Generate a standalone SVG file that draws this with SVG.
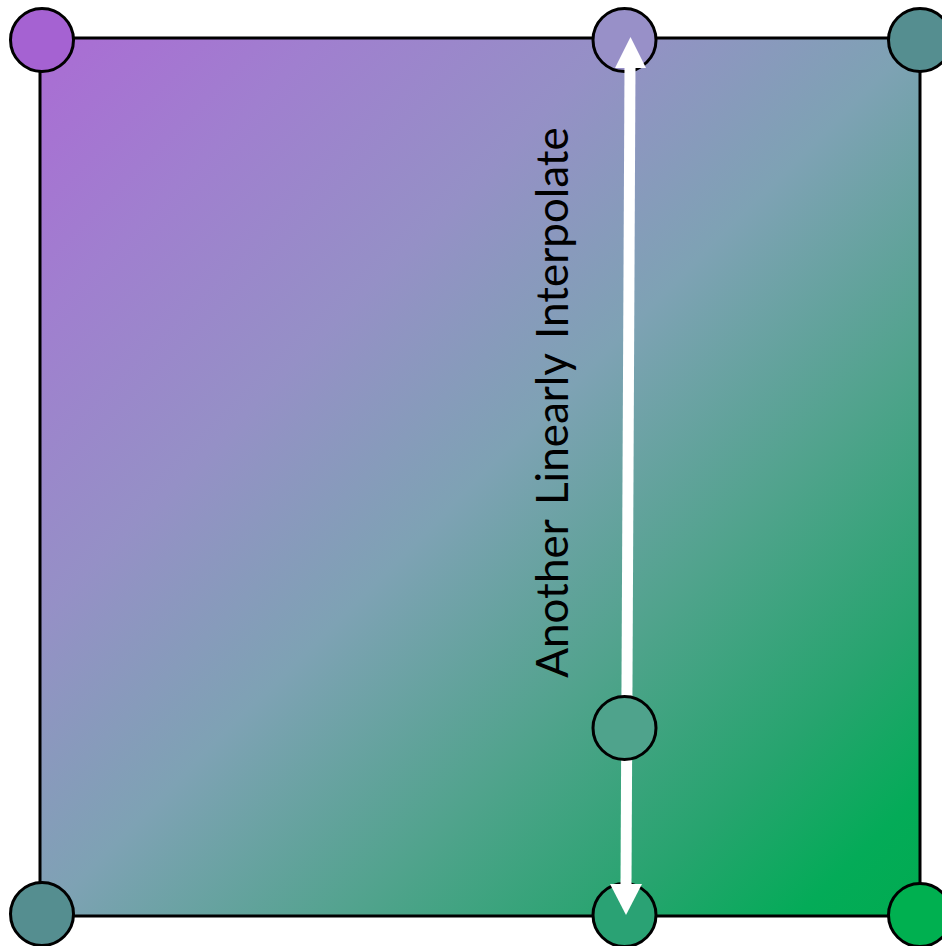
<svg xmlns="http://www.w3.org/2000/svg" width="942" height="946" viewBox="0 0 942 946">
  <defs>
    <linearGradient id="fieldGrad" gradientUnits="userSpaceOnUse" x1="40" y1="38" x2="920" y2="916">
      <stop offset="0" stop-color="#aa6cd4"/>
      <stop offset="0.16" stop-color="#a07fcf"/>
      <stop offset="0.33" stop-color="#9590c6"/>
      <stop offset="0.5" stop-color="#7ea2b4"/>
      <stop offset="0.68" stop-color="#50a38c"/>
      <stop offset="0.83" stop-color="#26a46e"/>
      <stop offset="0.93" stop-color="#04ab58"/>
      <stop offset="1" stop-color="#00ac50"/>
    </linearGradient>
    <style>
      .pt { stroke: #000; stroke-width: 3; }
      .label { font-family: "Lato", "Open Sans", sans-serif; font-size: 44px; fill: #000; word-spacing: 4px; }
      .shaft { stroke: #fff; stroke-width: 11; fill: none; }
      .head { fill: #fff; }
    </style>
  </defs>

  <!-- interpolated field -->
  <rect id="field" x="40" y="38" width="880" height="878" fill="url(#fieldGrad)" stroke="#000" stroke-width="3"/>

  <!-- corner samples -->
  <g id="corner-tl"><circle class="pt" cx="42" cy="40" r="31.5" fill="#a562d2"/></g>
  <g id="corner-tr"><circle class="pt" cx="920" cy="40" r="31.5" fill="#558e90"/></g>
  <g id="corner-bl"><circle class="pt" cx="42" cy="914" r="31.5" fill="#558e90"/></g>
  <g id="corner-br"><circle class="pt" cx="920" cy="915" r="31.5" fill="#00b050"/></g>

  <!-- edge samples -->
  <g id="edge-top"><circle class="pt" cx="624.5" cy="40" r="31.5" fill="#9890c8"/></g>
  <g id="edge-bottom"><circle class="pt" cx="624.5" cy="915" r="31.5" fill="#2aa274"/></g>

  <!-- double-headed interpolation arrow -->
  <g id="connectors">
    <line class="shaft" x1="630" y1="66" x2="626" y2="886"/>
    <polygon class="head" points="630.5,37 646,68 615,68"/>
    <polygon class="head" points="626,915 610,884 642,884"/>
  </g>

  <!-- interpolated sample -->
  <g id="interp"><circle class="pt" cx="624.5" cy="728" r="31.5" fill="#4fa38c"/></g>

  <g id="caption">
    <text class="label" transform="translate(568,402.5) rotate(-90)" text-anchor="middle">Another Linearly Interpolate</text>
  </g>
</svg>
